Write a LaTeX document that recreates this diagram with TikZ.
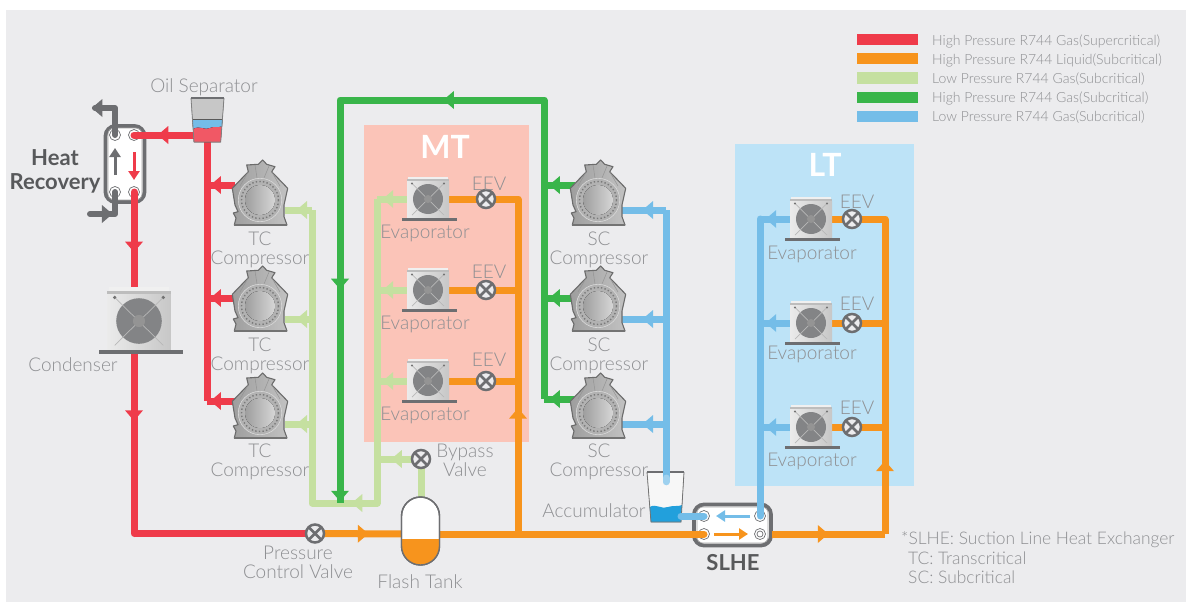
\documentclass[tikz,border=0pt]{standalone}
\usepackage{fontspec}
\setmainfont{Lato}[UprightFont=* Light,BoldFont=* Bold]
\usetikzlibrary{decorations.markings,arrows.meta,calc}
\definecolor{bgc}{HTML}{ECECEE}
\definecolor{redc}{HTML}{EF3B4A}
\definecolor{orangec}{HTML}{F7941D}
\definecolor{lgreenc}{HTML}{C5E0A0}
\definecolor{greenc}{HTML}{39B54A}
\definecolor{bluec}{HTML}{74BDE8}
\definecolor{deepblue}{HTML}{22A0DC}
\definecolor{greyc}{HTML}{6D6E71}
\definecolor{txtc}{HTML}{8E8F92}
\definecolor{darktxt}{HTML}{58595B}
\definecolor{mtc}{HTML}{FBC4B8}
\definecolor{ltc}{HTML}{BDE3F7}
\tikzset{
  pipe/.style={line width=7pt,line join=round},
  flowat/.style={postaction={decorate,decoration={markings,mark=at position #1 with {\fill (5.5,0)--(-5,9)--(-5,-9)--cycle;}}}},
  inner/.style={line width=3pt,-{Triangle[length=9pt,width=11pt]}},
  lbl/.style={font=\fontsize{19}{19}\selectfont,text=txtc,inner sep=0pt,align=center,yshift=-1.5pt},
  boldlbl/.style={font=\fontsize{22}{24}\selectfont\bfseries,text=darktxt,inner sep=0pt,align=center},
  panellbl/.style={font=\fontsize{32}{32}\selectfont\bfseries,text=white,inner sep=0pt},
  leglbl/.style={font=\fontsize{14}{14}\selectfont,text=txtc,inner sep=0pt,anchor=west,yshift=-1pt},
  legbar/.style={minimum width=61pt,minimum height=11pt,inner sep=0pt,anchor=west},
  notelbl/.style={font=\fontsize{17.4}{18}\selectfont,text=txtc,inner sep=0pt,anchor=west},
  anchorbox/.style={inner sep=0pt,minimum width=#1pt,minimum height=#1pt},
  port/.style={circle,draw=greyc,fill=white,line width=.7pt,inner sep=0pt,minimum size=11pt},
  hxbox/.style={draw=greyc,fill=white,line width=3.8pt,rounded corners=10pt,inner sep=0pt},
  pics/compressor/.style={code={
    \draw[black!58,line width=1.1pt,line join=round,left color=black!38,right color=black!24]
      (-25.7,31)--(-24,24)--(-26.7,19)--(-22,17.7)--(-25,11)--(-27.7,-5.7)--(-11.7,-22.3)--(-13.3,-29)--(-1.7,-29.7)--(2.7,-34)--(6.7,-29.7)--(15,-27.3)--(11.7,-22.3)--(27.7,-5.7)--(24,11)--(24,22.7)--(27,31)--cycle;
    \draw[black!42,line width=.5pt] (-11.7,-22.3)--(-20,-8) (11.7,-22.3)--(20,-8) (-5,-29)--(-3,-16) (9,-28)--(4,-16);
    \fill[black!30,draw=black!15,line width=.6pt] (0,6) circle (21.7);
    \draw[black!52,line width=1.4pt,dash pattern=on 1.4pt off 2.2pt] (0,6) circle (18.5);
    \fill[left color=black!38,right color=black!16] (0,6) circle (15);
    \fill[black!55] (-26,30) rectangle (27,32);
  }},
  pics/fanunit/.style={code={
    \fill[left color=black!8,right color=black!22] (-21,-18) rectangle (21,19);
    \fill[black!6] (-20,-22.5) rectangle (20,-20);
    \fill[black!26] (-21,-20) rectangle (21,-18);
    \fill[greyc!85] (0,0) circle (15);
    \draw[black!28,line width=.7pt] (-16,-15.5)--(16,16) (16,-15.5)--(-16,16);
    \fill[black!55] (-16,-15.5) circle (1.2) (16,-15.5) circle (1.2);
    \fill[black!42] (0,0) circle (4);
    \fill[greyc] (-26,19) rectangle (29,21.5);
  }},
  pics/valve/.style={code={
    \draw[greyc,fill=bgc,line width=2.5pt] (0,0) circle (9);
    \draw[greyc,line width=2.5pt] (-6.4,-6.4)--(6.4,6.4) (6.4,-6.4)--(-6.4,6.4);
  }},
}
\begin{document}
\begin{tikzpicture}[x=1pt,y=-1pt]
\useasboundingbox (0,0) rectangle (1186,602);
\fill[white] (0,0) rectangle (1186,602);
\fill[bgc] (6,10) rectangle (1186,602);
% panels
\node[fill=mtc,inner sep=0pt,minimum width=165pt,minimum height=317pt] (mtpanel) at (446.5,283.5) {};
\node[fill=ltc,inner sep=0pt,minimum width=179pt,minimum height=342pt] (ltpanel) at (824.5,315) {};
% heat exchangers (below the pipes)
\node[hxbox,minimum width=39pt,minimum height=76pt] (hrx) at (125,164) {};
\draw[black!35,line width=.6pt,rounded corners=6pt] (108,128) rectangle (142,200);
\node[hxbox,minimum width=77pt,minimum height=41pt] (slhe) at (732.5,525) {};
\draw[black!35,line width=.6pt,rounded corners=6pt] (697,507) rectangle (768,543);
\foreach \n/\x/\y in {hp1/115/135,hp2/134/135,hp3/115/192,hp4/134/192,sp1/704/516,sp2/760/516,sp3/704/534,sp4/760/534}
  \node[port] (\n) at (\x,\y) {};
\node[circle,draw=greyc,line width=.7pt,inner sep=0pt,minimum size=6pt] (sp4c) at (sp4) {};
% anchors
\foreach \i/\yc/\yo/\ys in {1/194/185/210,2/300/298/319,3/407/401/424}{
  \node[anchorbox=56] (tc\i) at (260,\yc) {};
  \coordinate (tc\i o) at (235,\yo);
  \coordinate (tc\i s) at (285,\ys);
  \coordinate (jr\i) at (207,\yo);
  \coordinate (jl\i) at (312,\ys);
}
\foreach \i/\yc/\yo/\ys in {1/194/185/210,2/300/298/319,3/407/399/424}{
  \node[anchorbox=56] (sc\i) at (598,\yc) {};
  \coordinate (sc\i o) at (575,\yo);
  \coordinate (sc\i s) at (620,\ys);
  \coordinate (jg\i) at (544,\yo);
  \coordinate (jb\i) at (666,\ys);
}
\foreach \i/\y in {1/199,2/290,3/381}{
  \node[anchorbox=40] (me\i) at (428,\y) {};
  \node[anchorbox=18] (mv\i) at (486,\y) {};
  \coordinate (mj\i) at (518,\y);
  \coordinate (mk\i) at (377,\y);
}
\foreach \i/\y in {1/219,2/323,3/427}{
  \node[anchorbox=40] (le\i) at (811,\y) {};
  \node[anchorbox=18] (lv\i) at (852,\y) {};
  \coordinate (lj\i) at (885,\y);
  \coordinate (lk\i) at (760,\y);
}
\node[anchorbox=40] (sep) at (206,120) {};
\node[anchorbox=60] (cond) at (139,321) {};
\node[anchorbox=18] (pcv) at (315,533.5) {};
\node[anchorbox=18] (bpv) at (421,459) {};
\node[anchorbox=30] (acc) at (666,497) {};
\coordinate (sepl) at (195,135);
\coordinate (sepb) at (207,142);
\coordinate (redc1) at (134,533.5);
\coordinate (tanktop) at (421,498);
\coordinate (bpj) at (377,459);
\coordinate (lgbr) at (377,503);
\coordinate (lgbl) at (312,503);
\coordinate (dgtr) at (544,100);
\coordinate (dgtl) at (340,100);
\coordinate (dgb) at (340,503);
\coordinate (orj) at (518,534);
\coordinate (tankl) at (402,534);
\coordinate (tankr) at (439,534);
\coordinate (slheo) at (772,534);
\coordinate (ltcorner) at (885,534);
\coordinate (accin) at (666,478);
\coordinate (accout) at (681,516);
\coordinate (gt1) at (115,108);
\coordinate (gt2) at (95,108);
\coordinate (gb1) at (115,214);
\coordinate (gb2) at (90,214);
% light green
\draw[pipe,lgreenc,flowat=.489] (mk1)--(lgbr)--(lgbl)--(jl1);
\foreach \i in {1,2,3}{
  \draw[pipe,lgreenc,flowat=.37] (jl\i)--(tc\i s);
  \draw[pipe,lgreenc,flowat=.78] (me\i.center)--(mk\i);
}
\draw[pipe,lgreenc] (tanktop)--(bpv.center);
\draw[pipe,lgreenc,flowat=.55] (bpv.center)--(bpj);
% dark green
\foreach \i in {1,2,3}
  \draw[pipe,greenc,flowat=.65] (sc\i o)--(jg\i);
\draw[pipe,greenc,flowat=.435,flowat=.758,flowat=.992] (jg3)--(dgtr)--(dgtl)--(dgb);
% red
\draw[pipe,redc] (sepb)--(jr3);
\foreach \i in {1,2,3}
  \draw[pipe,redc,flowat=.68] (tc\i o)--(jr\i);
\draw[pipe,redc,line cap=round,flowat=.52] (sepl)--(hp2.center);
\draw[pipe,redc,line cap=round,flowat=.16,flowat=.654] (hp4.center)--(redc1);
\draw[pipe,redc] (redc1)--(pcv.center);
% grey
\draw[pipe,greyc,line width=6pt,line cap=round,flowat=.95] (hp1.center)--(gt1)--(gt2);
\draw[pipe,greyc,line width=6pt,line cap=round,flowat=.36] (gb2)--(gb1)--(hp3.center);
% orange
\draw[pipe,orangec,flowat=.55] (pcv.center)--(tankl);
\draw[pipe,orangec,line cap=round] (tankr)--(sp3.center);
\draw[pipe,orangec,flowat=.328] (orj)--(mj1)--(mv1.center);
\foreach \i in {2,3} \draw[pipe,orangec] (mj\i)--(mv\i.center);
\foreach \i in {1,2,3} \draw[pipe,orangec] (mv\i.center)--(me\i.center);
\draw[pipe,orangec,flowat=.45] (slheo)--(ltcorner);
\draw[pipe,orangec,flowat=.195] (ltcorner)--(lj1)--(lv1.center);
\foreach \i in {2,3} \draw[pipe,orangec] (lj\i)--(lv\i.center);
\foreach \i in {1,2,3} \draw[pipe,orangec] (lv\i.center)--(le\i.center);
% blue
\draw[pipe,bluec] (jb3)--(jb1);
\foreach \i in {1,2,3}
  \draw[pipe,bluec,flowat=.39] (jb\i)--(sc\i s);
\draw[pipe,bluec,line cap=round] (lk1)--(sp2.center);
\foreach \i in {1,2,3}
  \draw[pipe,bluec,flowat=.78] (le\i.center)--(lk\i);
% inner arrows of exchangers
\coordinate (ia1) at (115,175); \coordinate (ia2) at (115,148);
\coordinate (ia3) at (134,152); \coordinate (ia4) at (134,180);
\coordinate (ia5) at (750,516); \coordinate (ia6) at (716,516);
\coordinate (ia7) at (714,534); \coordinate (ia8) at (748,534);
\draw[inner,greyc] (ia1)--(ia2);
\draw[inner,redc] (ia3)--(ia4);
\draw[inner,bluec] (ia5)--(ia6);
\draw[inner,orangec] (ia7)--(ia8);
% icons
\foreach \i in {1,2,3}{
  \pic at (tc\i) {compressor};
  \pic at (sc\i) {compressor};
  \pic at (me\i) {fanunit};
  \pic at (le\i) {fanunit};
  \pic at (mv\i) {valve};
  \pic at (lv\i) {valve};
}
\pic[scale=1.52] at (cond) {fanunit};
\pic at (pcv) {valve};
\pic at (bpv) {valve};
% oil separator
\fill[left color=black!22,middle color=black!4,right color=black!22] (191,98)--(224,98)--(220.7,142)--(194,142)--cycle;
\fill[left color=bluec,middle color=bluec!55!white,right color=bluec] (192.5,120)--(222.5,120)--(221.7,130)--(193.2,130)--cycle;
\fill[left color=redc!85!white,middle color=redc!50!white,right color=redc!85!white] (193.2,129) .. controls (200,125) and (205,131) .. (210,128) .. controls (214,126) and (218,128) .. (221.7,126.5)--(220.7,142)--(194,142)--cycle;
\draw[black!65,line width=.8pt] (192.5,119.5)--(222.5,119.5);
\draw[black!50,line width=.8pt] (191,98)--(194,142)--(220.7,142)--(224,98);
\draw[greyc,line width=1.8pt] (191,98)--(224,98);
% accumulator
\fill[left color=black!3,middle color=black!12,right color=black!3] (647,472)--(684,472)--(681,522)--(651,522)--cycle;
\fill[deepblue] (649.7,507) .. controls (656,503) and (662,510) .. (668,507) .. controls (674,505) and (678,507) .. (682,505)--(681,522)--(651,522)--cycle;
\draw[black!55,line width=.8pt] (647,472)--(651,522)--(681,522)--(684,472);
\draw[greyc,line width=1.8pt] (647,472)--(684,472);
\draw[pipe,bluec] (jb3)--(acc.north);
\draw[pipe,bluec!70!white,line cap=round] (acc.north)--(accin);
\draw[pipe,bluec,line cap=round] (accout)--(sp1.center);
% flash tank
\node[draw=greyc,fill=white,line width=1.4pt,rounded corners=19pt,inner sep=0pt,minimum width=38pt,minimum height=68pt] (tank) at (420.5,531) {};
\fill[orangec] (401.5,539) -- (439.5,539) -- (439.5,546) arc[start angle=0,end angle=180,radius=19] -- cycle;
\draw[greyc,line width=1.4pt,rounded corners=19pt] (401.5,497) rectangle (439.5,565);
% labels
\node[lbl] (tOil) at (204,86) {Oil Separator};
\node[boldlbl] (tHR) at (55,171) {Heat\\Recovery};
\node[lbl] (tCond) at (73,363) {Condenser};
\foreach \i/\y in {1/248.5,2/354.5,3/460}{
  \node[lbl] (ttc\i) at (260,\y) {TC\\Compressor};
  \node[lbl] (tsc\i) at (599,\y) {SC\\Compressor};
}
\node[panellbl] (tMT) at (445,147) {MT};
\node[panellbl] (tLT) at (825,165) {LT};
\foreach \i/\y/\e in {1/232/182,2/323/270.5,3/414/358.5}{
  \node[lbl] (tme\i) at (425,\y) {Evaporator};
  \node[lbl] (tev\i) at (489,\e) {EEV};
}
\foreach \i/\y/\e in {1/253/200,2/353/302,3/460/406}{
  \node[lbl] (tle\i) at (812,\y) {Evaporator};
  \node[lbl] (tlv\i) at (857,\e) {EEV};
}
\node[lbl] (tBy) at (465,459) {Bypass\\Valve};
\node[lbl] (tPc) at (298,560.5) {Pressure\\Control Valve};
\node[lbl] (tFt) at (420,580) {Flash Tank};
\node[lbl] (tAc) at (594,509) {Accumulator};
\node[boldlbl] (tSl) at (733,563) {SLHE};
% legend
\foreach \i/\y/\c/\t in {1/40/redc/High Pressure R744 Gas(Supercritical),2/59/orangec/High Pressure R744 Liquid(Subcritical),3/78/lgreenc/Low Pressure R744 Gas(Subcritical),4/97/greenc/High Pressure R744 Gas(Subcritical),5/116/bluec/Low Pressure R744 Gas(Subcritical)}{
  \node[legbar,fill=\c] (lb\i) at (857,\y) {};
  \node[leglbl] (lt\i) at (932,\y) {\t};
}
\node[notelbl] (n1) at (901,540) {*SLHE: Suction Line Heat Exchanger};
\node[notelbl] (n2) at (908,558.5) {TC: Transcritical};
\node[notelbl] (n3) at (908,577) {SC: Subcritical};
\end{tikzpicture}
\end{document}
